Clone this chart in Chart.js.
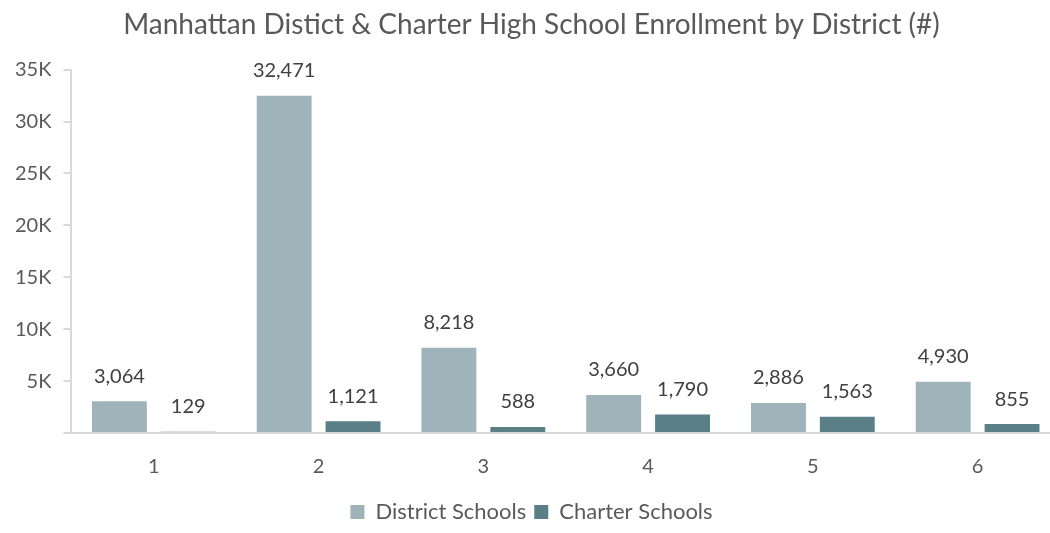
<!DOCTYPE html>
<html>
<head>
<meta charset="utf-8">
<script src="https://cdn.jsdelivr.net/npm/chart.js@4/dist/chart.umd.min.js"></script>
<style>
  html, body { margin: 0; padding: 0; background: #fff; overflow: hidden; }
  #wrap { width: 1085px; height: 533px; }
</style>
</head>
<body>
<div id="wrap"><canvas id="myChart"></canvas></div>
<script>
// values
const districts = ['1', '2', '3', '4', '5', '6'];
const districtSchools = [3064, 32471, 8218, 3660, 2886, 4930];
const charterSchools = [129, 1121, 588, 1790, 1563, 855];

const grey = '#595959';

// draws the number above each bar
const barLabels = {
  id: 'barLabels',
  afterDatasetsDraw(chart) {
    const ctx = chart.ctx;
    ctx.save();
    ctx.font = '20px Lato';
    ctx.fillStyle = '#404040';
    ctx.textAlign = 'center';
    ctx.textBaseline = 'middle';
    chart.data.datasets.forEach((ds, i) => {
      chart.getDatasetMeta(i).data.forEach((bar, j) => {
        ctx.fillText(ds.data[j].toLocaleString('en-US'), bar.x, bar.y - 25);
      });
    });
    ctx.restore();
  }
};

const ctx = document.getElementById('myChart').getContext('2d');
const mychart = new Chart(ctx, {
  type: 'bar',
  data: {
    labels: districts,
    datasets: [{
      label: 'District Schools',
      data: districtSchools,
      backgroundColor: '#9eb3ba'
    }, {
      label: 'Charter Schools',
      data: charterSchools,
      backgroundColor: '#5a7f87'
    }]
  },
  plugins: [barLabels],
  options: {
    responsive: true,
    maintainAspectRatio: false,
    animation: false,
    categoryPercentage: 0.836,
    barPercentage: 0.797,
    layout: { padding: { left: 3, right: 25, top: 0, bottom: 0 } },
    plugins: {
      title: {
        display: true,
        text: 'Manhattan Distict & Charter High School Enrollment by District (#)',
        color: grey,
        font: { family: 'Lato', size: 28, weight: 'normal' },
        padding: { top: 8, bottom: 28 }
      },
      legend: {
        position: 'bottom',
        labels: {
          color: grey,
          font: { family: 'Lato', size: 22 },
          boxWidth: 14,
          boxHeight: 14,
          padding: 8
        }
      },
      tooltip: { enabled: false }
    },
    scales: {
      x: {
        grid: { display: false },
        border: { color: '#d9d9d9', width: 2 },
        ticks: { color: grey, font: { family: 'Lato', size: 20 }, padding: 14 }
      },
      y: {
        min: 0,
        max: 35000,
        grid: { drawOnChartArea: false, color: '#d9d9d9', tickLength: 8, lineWidth: 2 },
        border: { color: '#d9d9d9', width: 2 },
        ticks: {
          stepSize: 5000,
          color: grey,
          font: { family: 'Lato', size: 20 },
          padding: 12,
          callback: v => v === 0 ? '' : (v / 1000) + 'K'
        }
      }
    }
  }
});
</script>
</body>
</html>
